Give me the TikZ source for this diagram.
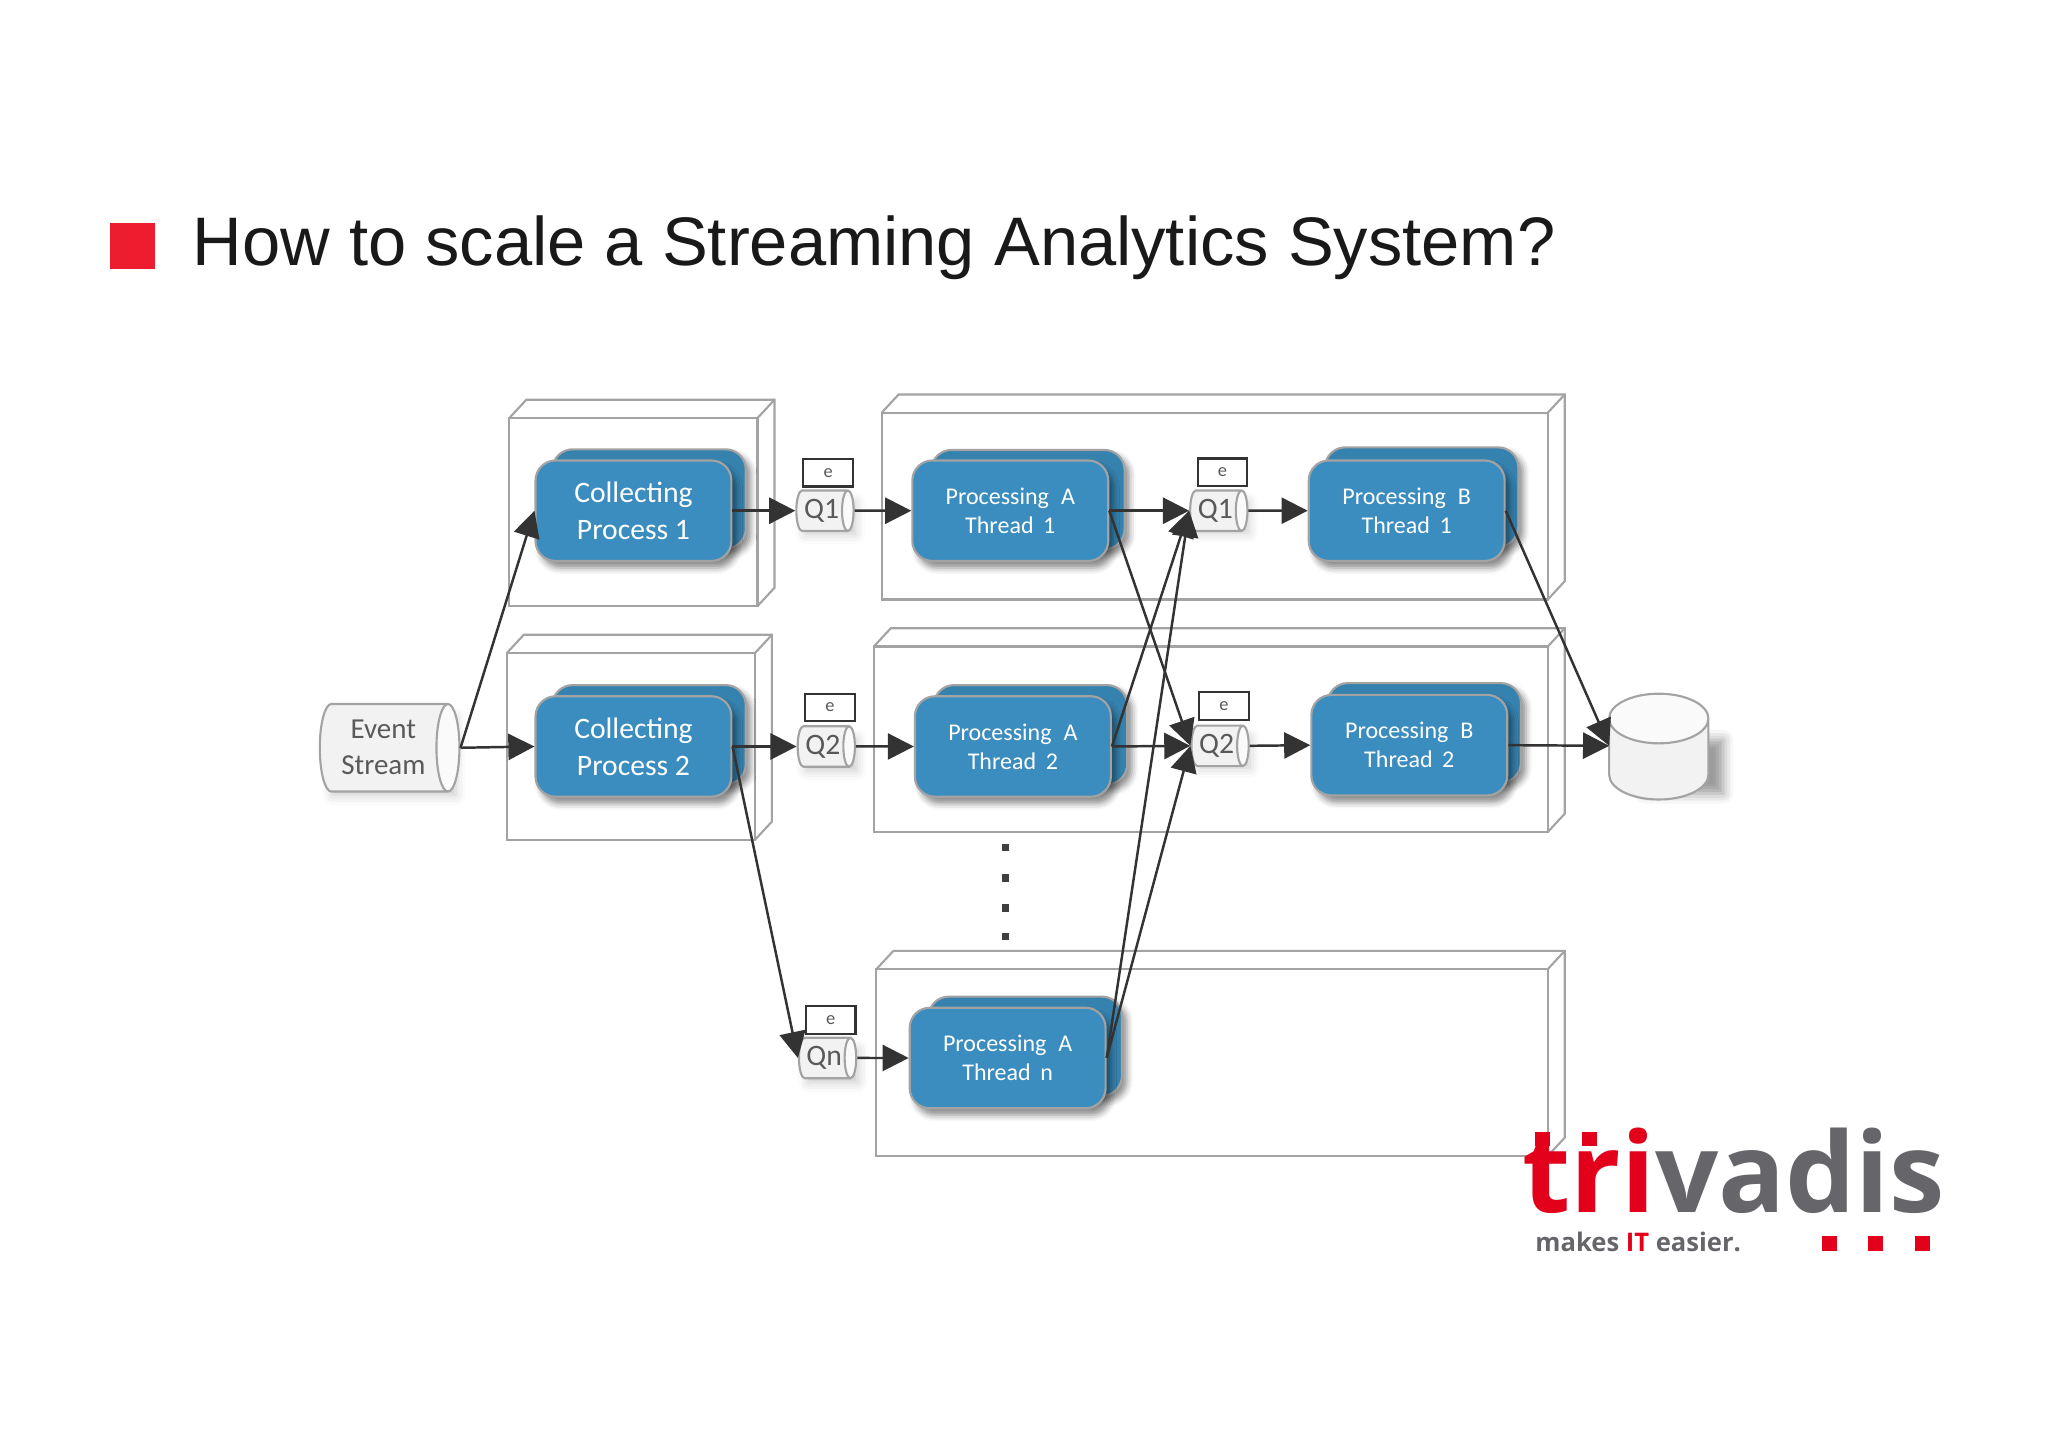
\documentclass[tikz,border=0pt]{standalone}
\usepackage{fontspec}
\setmainfont{Carlito}
\newfontfamily\titlefont{Liberation Sans}
\newfontfamily\logofont{Open Sans}
\usepackage{tikz}
\usetikzlibrary{arrows.meta,shapes.geometric,shadows.blur}
\definecolor{procblue}{HTML}{3A8DBE}
\definecolor{framegray}{HTML}{A3A3A3}
\definecolor{labelgray}{HTML}{595959}
\definecolor{tvred}{HTML}{E2001A}
\definecolor{squarered}{HTML}{ED1C2E}
\definecolor{tvgray}{HTML}{66666A}
\tikzset{
	frame/.style={draw=framegray, line width=0.6pt},
	blueback/.style={draw=framegray, fill=procblue!92!black, rounded corners=0.2cm, minimum width=1.924cm, minimum height=0.988cm, inner sep=0pt, line width=0.6pt, blur shadow={shadow xshift=0.05cm, shadow yshift=-0.05cm, shadow blur radius=0.06cm, shadow opacity=45}},
	bluebox/.style={draw=framegray, fill=procblue, text=white, rounded corners=0.2cm, minimum width=1.95cm, minimum height=1cm, inner sep=0pt, align=center, line width=0.6pt, blur shadow={shadow xshift=0.05cm, shadow yshift=-0.07cm, shadow blur radius=0.06cm, shadow opacity=45}},
	collect/.style={bluebox, font=\fontsize{8.4}{10.4}\selectfont},
	process/.style={bluebox, font=\fontsize{6.8}{8.2}\selectfont},
	drum/.style={cylinder, aspect=0.5, draw=framegray, cylinder uses custom fill, cylinder body fill=black!5, cylinder end fill=black!2, text=labelgray, inner sep=0pt, align=center, line width=0.6pt},
	queue/.style={drum, minimum width=0.403cm, minimum height=0.57cm, font=\fontsize{8.4}{10}\selectfont},
	evbox/.style={draw=black!80, fill=white, text=labelgray, minimum width=0.494cm, minimum height=0.273cm, inner sep=0pt, line width=0.6pt, font=\fontsize{5.2}{6}\selectfont},
	flow/.style={draw=black!80, line width=0.7pt, -{Triangle[length=7.4pt, width=7.4pt]}},
	dotmark/.style={fill=black!75, minimum size=0.075cm, inner sep=0pt},
	logodot/.style={fill=tvred, minimum size=0.145cm, inner sep=0pt},
	drumshade/.style={fill=white, blur shadow={shadow xshift=0.06cm, shadow yshift=-0.06cm, shadow blur radius=0.1cm, shadow opacity=22}}
}
\begin{document}
\begin{tikzpicture}[x=0.013cm, y=-0.013cm]
	\useasboundingbox (0,0) rectangle (1568,1108);

	% Titel
	\node[fill=squarered, minimum size=0.455cm, inner sep=0pt] (bullet) at (101.5,188.5) {};
	\node[anchor=base west, inner sep=0pt, font=\titlefont\fontsize{19.45}{23}\selectfont, text=black!90] (headline) at (147,203) {How to scale a Streaming Analytics System?};

	% Rahmen
	\foreach \xa/\ya/\xb/\yb in {390/320/580/464, 388/500/578/643, 675/316/1185/459, 669/495/1185/637, 671/742/1185/885}
	{
		\draw[frame] (\xa,\ya) rectangle (\xb,\yb);
		\draw[frame] (\xa,\ya) -- ++(13,-14) -- ++(\xb-\xa,0) -- ++(0,\yb-\ya) -- (\xb,\yb);
		\draw[frame] (\xb,\ya) -- ++(13,-14);
	}

	% Schatten
	\foreach \xa/\ya/\xb/\yb in {250/545/344/604, 612/380/650/404, 613/561/651/585, 614/799/652/824, 913/380/951/403, 914/560/952/583}
		\path[drumshade] (\xa,\ya) rectangle (\xb,\yb);
	\path[drumshade, blur shadow={shadow xshift=0.25cm, shadow yshift=-0.02cm}] (1240,565) rectangle (1300,606);

	% Prozesse
	\node[blueback] (collectAb) at (497,382) {};
	\node[collect] (collectA) at (485,391) {Collecting\\Process 1};
	\node[blueback] (collectBb) at (497,562.5) {};
	\node[collect] (collectB) at (485,571.5) {Collecting\\Process 2};

	\node[blueback] (procAab) at (787,382.5) {};
	\node[process] (procAa) at (773.5,391) {Processing\hspace{0.5em}A\\Thread\hspace{0.4em}1};
	\node[blueback] (procAbb) at (789,562.5) {};
	\node[process] (procAb) at (775.5,571.5) {Processing\hspace{0.5em}A\\Thread\hspace{0.4em}2};
	\node[blueback] (procAnb) at (785,801) {};
	\node[process] (procAn) at (771.5,810) {Processing\hspace{0.5em}A\\Thread\hspace{0.4em}n};

	\node[blueback] (procBab) at (1088.5,380.5) {};
	\node[process] (procBa) at (1077,391) {Processing\hspace{0.5em}B\\Thread\hspace{0.4em}1};
	\node[blueback] (procBbb) at (1090.5,561) {};
	\node[process] (procBb) at (1079,570.5) {Processing\hspace{0.5em}B\\Thread\hspace{0.4em}2};

	% Queues
	\node[queue] (queueA) at (629,391) {Q1};
	\node[evbox] (evA) at (634,362) {e};
	\node[queue] (queueB) at (630,571.5) {Q2};
	\node[evbox] (evB) at (635.5,541.5) {e};
	\node[queue] (queueN) at (631,810) {Qn};
	\node[evbox] (evN) at (636,781) {e};
	\node[queue] (queueC) at (930.5,391) {Q1};
	\node[evbox] (evC) at (936,361.5) {e};
	\node[queue] (queueD) at (931.5,571) {Q2};
	\node[evbox] (evD) at (937,540.5) {e};

	% Quelle und Senke
	\node[drum, aspect=0.42, minimum width=0.871cm, minimum height=1.39cm, font=\fontsize{8.2}{10.2}\selectfont] (source) at (293.5,572.5) {Event\\Stream};
	\node[drum, rotate=90, minimum width=0.988cm, minimum height=1.053cm] (sink) at (1270,581.5) {\rule{0pt}{0.988cm}};
	\coordinate (sinkin) at (1232,571);

	% Punkte
	\foreach \ypos in {649,672,695,717}
		\node[dotmark] (dots\ypos) at (770,\ypos) {};

	% Verbindungen
	\draw[flow] (source.east) -- (collectA.west);
	\draw[flow] (source.east) -- (collectB.west);
	\draw[flow] (collectA.east) -- (queueA.west);
	\draw[flow] (collectB.east) -- (queueB.west);
	\draw[flow] (collectB.east) -- (queueN.west);
	\draw[flow] (queueA.east) -- (procAa.west);
	\draw[flow] (queueB.east) -- (procAb.west);
	\draw[flow] (queueN.east) -- (procAn.west);
	\draw[flow] (procAa.east) -- (queueC.west);
	\draw[flow] (procAa.east) -- (queueD.west);
	\draw[flow] (procAb.east) -- (queueC.west);
	\draw[flow] (procAb.east) -- (queueD.west);
	\draw[flow] (procAn.east) -- (queueC.west);
	\draw[flow] (procAn.east) -- (queueD.west);
	\draw[flow] (queueC.east) -- (procBa.west);
	\draw[flow] (queueD.east) -- (procBb.west);
	\draw[flow] (procBa.east) -- (sinkin);
	\draw[flow] (procBb.east) -- (sinkin);

	% Logo
	\node[anchor=base west, inner sep=0pt, font=\logofont\bfseries\fontsize{31.5}{34}\selectfont] (brand) at (1165,928) {\textcolor{tvred}{tri}\textcolor{tvgray}{vadis}};
	\node[anchor=base west, inner sep=0pt, text=tvgray, font=\logofont\bfseries\fontsize{7.25}{8}\selectfont] (slogan) at (1175,958) {makes \textcolor{tvred}{IT} easier.};
	\node[logodot] (dotT) at (1181,872) {};
	\node[logodot] (dotR) at (1217,872) {};
	\foreach \xpos in {1400.5,1436,1472}
		\node[logodot] (dots\xpos) at (\xpos,952) {};
\end{tikzpicture}
\end{document}
